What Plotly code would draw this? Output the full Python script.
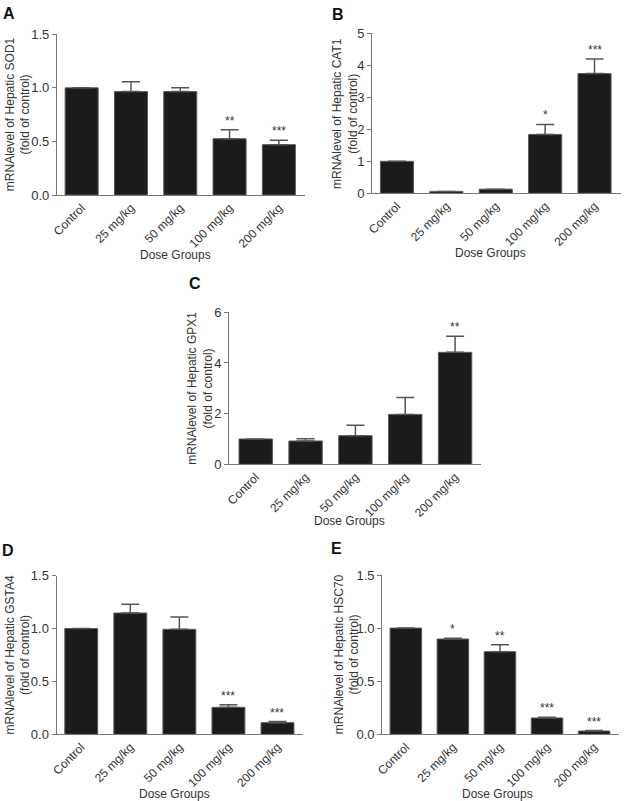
import plotly.graph_objects as go

groups = ["Control", "25 mg/kg", "50 mg/kg", "100 mg/kg", "200 mg/kg"]

sod1 = [1.0, 0.965, 0.965, 0.525, 0.47]
sod1_err = [0.0, 0.092, 0.037, 0.083, 0.04]
sod1_sig = ["", "", "", "**", "***"]

cat1 = [1.0, 0.06, 0.13, 1.84, 3.74]
cat1_err = [0.0, 0.0, 0.0, 0.31, 0.46]
cat1_sig = ["", "", "", "*", "***"]

gpx1 = [1.0, 0.92, 1.13, 1.97, 4.42]
gpx1_err = [0.0, 0.09, 0.41, 0.67, 0.63]
gpx1_sig = ["", "", "", "", "**"]

gsta4 = [1.0, 1.147, 0.993, 0.255, 0.11]
gsta4_err = [0.0, 0.082, 0.116, 0.025, 0.01]
gsta4_sig = ["", "", "", "***", "***"]

hsc70 = [1.0, 0.897, 0.778, 0.154, 0.031]
hsc70_err = [0.0, 0.008, 0.066, 0.006, 0.004]
hsc70_sig = ["", "*", "**", "***", "***"]

W, H = 628, 801
FONT = "Liberation Sans, Arial, sans-serif"
TXT = "#333333"
AX = "#777777"

panels = [
    dict(letter="A", gene="SOD1", v=sod1, e=sod1_err, s=sod1_sig, ymax=1.5, dt=0.5, fmt=".1f",
         box=(57, 305, 34.3, 195), xr=[-0.5, 4.53], lp=(9, 13), yt=17.5, xt=(175, 255)),
    dict(letter="B", gene="CAT1", v=cat1, e=cat1_err, s=cat1_sig, ymax=5, dt=1, fmt="d",
         box=(372.3, 620.7, 33.3, 193.3), xr=[-0.5, 4.53], lp=(338, 14), yt=345.7, xt=(490.7, 253)),
    dict(letter="C", gene="GPX1", v=gpx1, e=gpx1_err, s=gpx1_sig, ymax=6, dt=2, fmt="d",
         box=(229.3, 481, 312.3, 464.3), xr=[-0.53, 4.52], lp=(195, 283), yt=200.5, xt=(349, 521)),
    dict(letter="D", gene="GSTA4", v=gsta4, e=gsta4_err, s=gsta4_sig, ymax=1.5, dt=0.5, fmt=".1f",
         box=(56.7, 303, 575.7, 734.3), xr=[-0.5, 4.52], lp=(8, 550), yt=17.5, xt=(174, 794)),
    dict(letter="E", gene="HSC70", v=hsc70, e=hsc70_err, s=hsc70_sig, ymax=1.5, dt=0.5, fmt=".1f",
         box=(382.3, 619, 575, 734.3), xr=[-0.5, 4.53], lp=(336, 548), yt=346.5, xt=(497.3, 794)),
]

fig = go.Figure()
annotations = []
layout = {}

for i, p in enumerate(panels, start=1):
    xa = "x" if i == 1 else f"x{i}"
    ya = "y" if i == 1 else f"y{i}"
    x0, x1, yt_px, yb_px = p["box"]
    fig.add_trace(go.Bar(
        x=list(range(len(groups))), y=p["v"], xaxis=xa, yaxis=ya,
        width=0.67,
        marker=dict(color="#1b1b1b", line=dict(color="#5a5a5a", width=1)),
        error_y=dict(type="data", array=p["e"], symmetric=False, arrayminus=[0] * 5,
                     color="#555555", thickness=1.5, width=9),
        showlegend=False, hoverinfo="skip",
    ))
    xkey = "xaxis" if i == 1 else f"xaxis{i}"
    ykey = "yaxis" if i == 1 else f"yaxis{i}"
    layout[xkey] = dict(
        domain=[x0 / W, x1 / W], anchor=ya, range=p["xr"],
        tickvals=list(range(len(groups))), ticktext=groups, tickangle=-45,
        tickfont=dict(family=FONT, size=12, color=TXT),
        showline=True, linecolor=AX, linewidth=1.3, ticks="",
        showgrid=False, zeroline=False, automargin=False, fixedrange=True,
    )
    nt = int(round(p["ymax"] / p["dt"]))
    tv = [k * p["dt"] for k in range(nt + 1)]
    layout[ykey] = dict(
        domain=[1 - yb_px / H, 1 - yt_px / H], anchor=xa, range=[0, p["ymax"]],
        tickvals=tv, tickformat=p["fmt"],
        tickfont=dict(family=FONT, size=13, color=TXT),
        showline=True, linecolor=AX, linewidth=1.3, ticks="outside", ticklen=4,
        tickcolor=AX, tickwidth=1.3,
        showgrid=False, zeroline=False, automargin=False, fixedrange=True,
    )
    for k, s in enumerate(p["s"]):
        if s:
            annotations.append(dict(
                x=k, y=p["v"][k] + p["e"][k], xref=xa, yref=ya, text=s, showarrow=False,
                xanchor="center", yanchor="bottom", yshift=0,
                font=dict(family=FONT, size=12, color=TXT)))
    annotations.append(dict(
        x=p["lp"][0] / W, y=1 - p["lp"][1] / H, xref="paper", yref="paper",
        text=f"<b>{p['letter']}</b>", showarrow=False, xanchor="center", yanchor="middle",
        font=dict(family=FONT, size=16, color="#111111")))
    annotations.append(dict(
        x=p["yt"] / W, y=1 - (yt_px + yb_px) / 2 / H, xref="paper", yref="paper",
        text=f"mRNAlevel of Hepatic {p['gene']}<br>(fold of control)", textangle=-90,
        showarrow=False, xanchor="center", yanchor="middle",
        font=dict(family=FONT, size=12, color=TXT)))
    annotations.append(dict(
        x=p["xt"][0] / W, y=1 - p["xt"][1] / H, xref="paper", yref="paper",
        text="Dose Groups", showarrow=False, xanchor="center", yanchor="middle",
        font=dict(family=FONT, size=12, color=TXT)))

fig.update_layout(
    width=W, height=H, margin=dict(l=0, r=0, t=0, b=0),
    paper_bgcolor="white", plot_bgcolor="white",
    annotations=annotations, bargap=0.33, **layout,
)

fig.write_html("out.html")
